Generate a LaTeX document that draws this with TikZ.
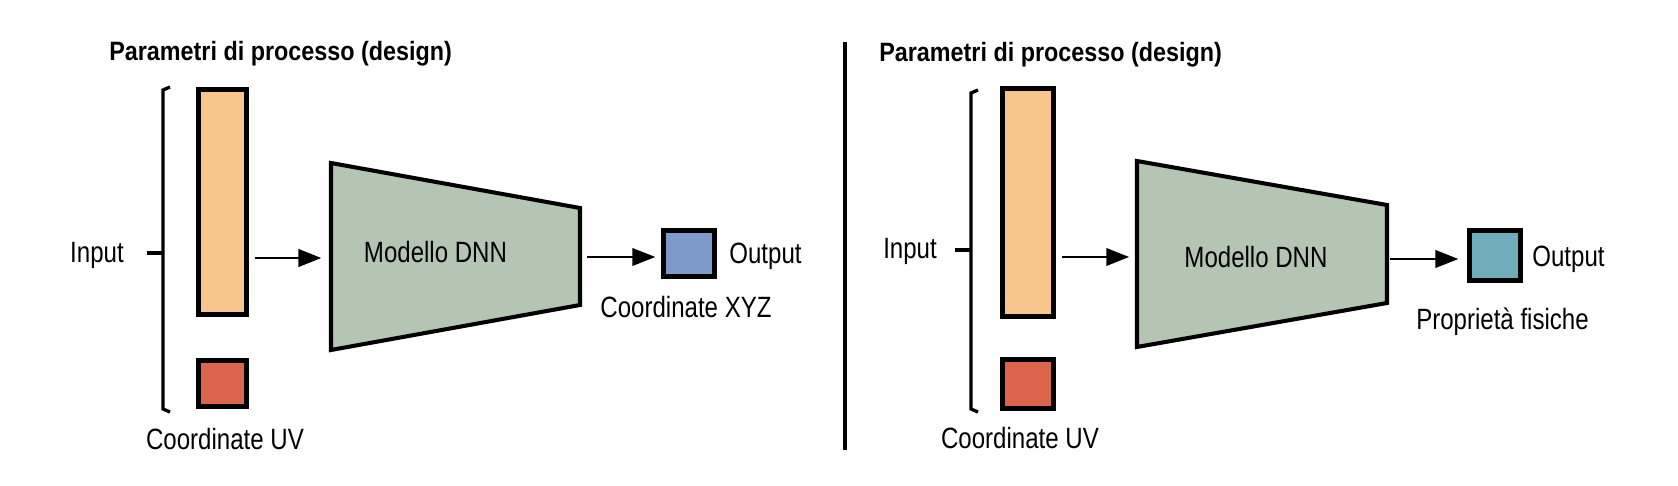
\documentclass[tikz,border=0pt]{standalone}
\usepackage{fontspec}
\setmainfont{Liberation Sans}[FakeStretch=0.82]
\newfontfamily\titlefont{Liberation Sans}[FakeStretch=0.88]
\usepackage{tikz}
\usetikzlibrary{arrows.meta, positioning}

\definecolor{inputcol}{HTML}{F8C68C}
\definecolor{uvcol}{HTML}{DB654B}
\definecolor{dnncol}{HTML}{B5C5B3}
\definecolor{xyzcol}{HTML}{7E9ACB}
\definecolor{physcol}{HTML}{70ADBB}

\tikzset{
  layer/.style  = {draw, line width=2.9pt, inner sep=0pt},
  dnn/.style    = {draw, line width=2.3pt, fill=dnncol, line join=miter},
  brace/.style  = {draw, line width=1.9pt},
  arr/.style    = {draw, line width=1.2pt, -{Triangle[length=13pt, width=10pt]}},
  txt/.style    = {inner sep=0pt, font=\fontsize{16.7}{18}\selectfont},
  title/.style  = {inner sep=0pt, anchor=base west, font=\titlefont\bfseries\fontsize{15.1}{17}\selectfont},
}

\begin{document}
\begin{tikzpicture}[x=0.02cm, y=-0.02cm]

\useasboundingbox (0,0) rectangle (1678,486);

% left panel
\node [title                 ] (titleL) at (109,61)    {Parametri di processo (design)};
\node [layer, fill=inputcol, minimum width=0.95cm, minimum height=4.49cm] (barL) at (222.5,202)   {};
\node [layer, fill=uvcol   , minimum width=0.95cm, minimum height=0.91cm] (uvL)  at (222.5,383.5) {};
\node [layer, fill=xyzcol  , minimum width=1.01cm, minimum height=0.91cm] (outL) at (689,253.5)   {};
\node [txt, anchor=base      ] (inL)    at (97,263)    {Input};
\node [txt, anchor=base      ] (uvtxtL) at (225,449)   {Coordinate UV};
\node [txt, anchor=base west ] (outtxtL) at (729,264)  {Output};
\node [txt, anchor=base      ] (xyzL)   at (686,318)   {Coordinate XYZ};

\path [dnn] (331,163) -- (580,208) -- (580,305) -- (331,350) -- cycle;
\coordinate (dnnLin)  at (331,258);
\coordinate (dnnLout) at (580,257);
\node [txt, anchor=base      ] (dnnL)   at (435.5,263) {Modello DNN};

\path [brace] (170,87) -- (163,90) -- (163,409) -- (170,412);
\coordinate (braceL) at (163,253);
\path [brace] (braceL) -- ++(-16,0);

\path [arr, shorten <=3.4pt, shorten >=5.5pt] (barL.east |- dnnLin) -- (dnnLin);
\path [arr, shorten <=4pt  , shorten >=3.4pt] (dnnLout) -- (outL.west |- dnnLout);

% divider
\coordinate (divtop) at (845,42);
\coordinate (divbot) at (845,450);
\path [draw, line width=2pt] (divtop) -- (divbot);

% right panel
\node [title                 ] (titleR) at (879,62)    {Parametri di processo (design)};
\node [layer, fill=inputcol, minimum width=1.01cm, minimum height=4.55cm] (barR) at (1028,202.5) {};
\node [layer, fill=uvcol   , minimum width=1.01cm, minimum height=0.97cm] (uvR)  at (1028,384)   {};
\node [layer, fill=physcol , minimum width=1.01cm, minimum height=0.99cm] (outR) at (1495,255.5) {};
\node [txt, anchor=base      ] (inR)    at (910,259)   {Input};
\node [txt, anchor=base      ] (uvtxtR) at (1020,448)  {Coordinate UV};
\node [txt, anchor=base west ] (outtxtR) at (1532,267) {Output};
\node [txt, anchor=base      ] (physR)  at (1502.5,330) {Proprietà fisiche};

\path [dnn] (1137,161) -- (1387,205) -- (1387,303) -- (1137,347) -- cycle;
\coordinate (dnnRin)  at (1137,257);
\coordinate (dnnRout) at (1387,259);
\node [txt, anchor=base      ] (dnnR)   at (1256,268)  {Modello DNN};

\path [brace] (978,90) -- (971,93) -- (971,409) -- (978,412);
\coordinate (braceR) at (971,250);
\path [brace] (braceR) -- ++(-16,0);

\path [arr, shorten <=3.4pt, shorten >=4.5pt] (barR.east |- dnnRin) -- (dnnRin);
\path [arr, shorten <=1.7pt, shorten >=5.1pt] (dnnRout) -- (outR.west |- dnnRout);

\end{tikzpicture}
\end{document}
